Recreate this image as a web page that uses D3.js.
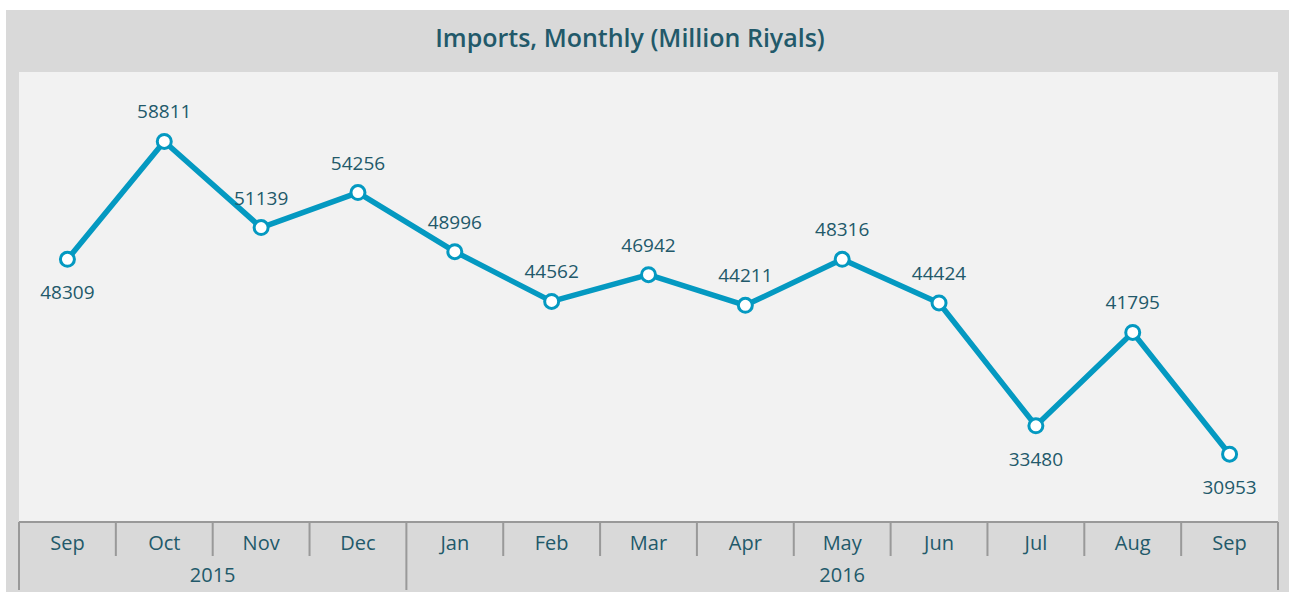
<!DOCTYPE html>
<html><head><meta charset="utf-8">
<script src="https://cdn.jsdelivr.net/npm/d3@7"></script>
<style>
html,body{margin:0;padding:0;background:#fff;}
svg{display:block;}
text{font-family:"Open Sans","DejaVu Sans",sans-serif;}
</style></head>
<body>
<svg id="chart" width="1289" height="592"></svg>
<script>
const months = ["Sep","Oct","Nov","Dec","Jan","Feb","Mar","Apr","May","Jun","Jul","Aug","Sep"];
const years = [{label:"2015", start:0, end:4},{label:"2016", start:4, end:13}];
const imports = [48309,58811,51139,54256,48996,44562,46942,44211,48316,44424,33480,41795,30953];
const labelBelow = [true,false,false,false,false,false,false,false,false,false,true,false,true];
const title = "Imports, Monthly (Million Riyals)";

const svg = d3.select("#chart");
const W = 1289, H = 592;
const plot = {left:19, right:1278, top:72, bottom:521};
const textColor = "#22596a";
const lineColor = "#0499c1";

svg.append("rect").attr("x",6).attr("y",10).attr("width",W-6).attr("height",H-10).attr("fill","#d9d9d9");
svg.append("rect").attr("x",plot.left).attr("y",plot.top).attr("width",plot.right-plot.left).attr("height",plot.bottom-plot.top).attr("fill","#f2f2f2");

svg.append("text").attr("x",630).attr("y",47).attr("text-anchor","middle")
  .attr("font-size",25).attr("font-weight",600).attr("fill",textColor).text(title);

const x = d3.scaleBand().domain(d3.range(months.length)).range([plot.left, plot.right]).padding(0);
const y = d3.scaleLinear().domain([25000,65000]).range([plot.bottom, plot.top]);

const axisG = svg.append("g").attr("transform",`translate(0,${plot.bottom+1})`);
axisG.call(d3.axisBottom(x).tickSize(0).tickFormat(i=>months[i]));
axisG.select(".domain").attr("stroke","#999").attr("stroke-width",2).attr("d",`M${plot.left},0H${plot.right}`);
axisG.selectAll(".tick text").attr("font-size",20).attr("fill",textColor).attr("dy","0").attr("y",28).style("font-family",'"Open Sans","DejaVu Sans",sans-serif');

const sepColor = "#999";
d3.range(months.length+1).forEach(i=>{
  const xp = i<months.length ? x(i) : x(months.length-1)+x.bandwidth();
  const isYear = years.some(yr=>yr.start===i) || i===months.length;
  svg.append("line").attr("x1",xp).attr("x2",xp).attr("y1",plot.bottom+1)
    .attr("y2", isYear ? 590 : 556).attr("stroke",sepColor).attr("stroke-width",2);
});
years.forEach(yr=>{
  const x0 = x(yr.start), x1 = x(yr.end-1)+x.bandwidth();
  svg.append("text").attr("x",(x0+x1)/2).attr("y",582).attr("text-anchor","middle")
    .attr("font-size",20).attr("fill",textColor).text(yr.label);
});

const cx = i => x(i)+x.bandwidth()/2;
const line = d3.line().x((d,i)=>cx(i)).y(d=>y(d));
svg.append("path").datum(imports).attr("d",line).attr("fill","none")
  .attr("stroke",lineColor).attr("stroke-width",5.5).attr("stroke-linejoin","round");
svg.selectAll("circle.pt").data(imports).join("circle").attr("class","pt")
  .attr("cx",(d,i)=>cx(i)).attr("cy",d=>y(d)).attr("r",7)
  .attr("fill","#fff").attr("stroke",lineColor).attr("stroke-width",3);
svg.selectAll("text.lbl").data(imports).join("text").attr("class","lbl")
  .attr("x",(d,i)=>cx(i)).attr("y",(d,i)=>y(d)+(labelBelow[i]?40:-23))
  .attr("text-anchor","middle").attr("font-size",19).attr("fill",textColor).text(d=>d);
</script>
</body></html>
